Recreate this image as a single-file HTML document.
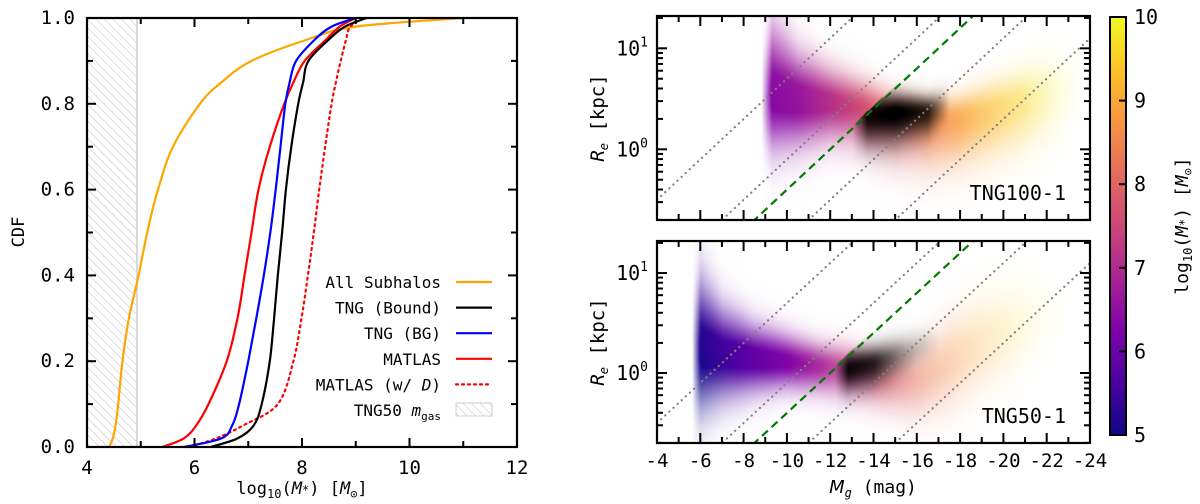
<!DOCTYPE html>
<html><head><meta charset="utf-8">
<style>
html,body{margin:0;padding:0;background:#fff;overflow:hidden;}
#wrap{position:relative;width:1200px;height:504px;overflow:hidden;font-family:"DejaVu Sans Mono","Liberation Mono",monospace;}
canvas,svg{position:absolute;left:0;top:0;}
text{font-family:"DejaVu Sans Mono","Liberation Mono",monospace;fill:#000;}
</style></head>
<body>
<div id="wrap">
<canvas id="cv" width="1200" height="504"></canvas>
<svg id="sv" width="1200" height="504" xmlns="http://www.w3.org/2000/svg">
<defs>
<pattern id="hatch" patternUnits="userSpaceOnUse" width="6" height="6" patternTransform="rotate(-45)">
<rect width="6" height="6" fill="#fff"/><line x1="0" y1="0" x2="0" y2="6" stroke="#bbb" stroke-width="1"/>
</pattern>
<linearGradient id="cbar" x1="0" y1="1" x2="0" y2="0">
<stop offset="0" stop-color="#0d0887"/><stop offset="0.125" stop-color="#4c02a1"/><stop offset="0.25" stop-color="#7e03a8"/><stop offset="0.375" stop-color="#a92395"/><stop offset="0.5" stop-color="#cc4778"/><stop offset="0.625" stop-color="#e56b5d"/><stop offset="0.75" stop-color="#f89540"/><stop offset="0.875" stop-color="#fdc328"/><stop offset="1" stop-color="#f0f921"/>
</linearGradient>
</defs>
</svg>
</div>
<script>
// ---------- CDF data (x = log10 M*, at CDF levels) ----------
const cdfLevels = [0, 0.02, 0.05, 0.1, 0.2, 0.3, 0.4, 0.5, 0.6, 0.7, 0.8, 0.85, 0.9, 0.95, 0.98, 1.0];
const allSubhalos = [4.41, 4.48, 4.53, 4.58, 4.66, 4.78, 4.96, 5.12, 5.32, 5.6, 6.1, 6.5, 7.06, 8.1, 9.0, 11.0];
const tngBound =    [6.3, 6.8, 7.1, 7.25, 7.4, 7.48, 7.55, 7.63, 7.7, 7.8, 7.93, 8.02, 8.12, 8.5, 8.8, 9.2];
const tngBG =       [5.8, 6.5, 6.7, 6.83, 7.0, 7.15, 7.29, 7.41, 7.51, 7.6, 7.69, 7.77, 7.89, 8.24, 8.55, 9.0];
const matlas =      [5.4, 5.8, 6.03, 6.26, 6.6, 6.8, 6.93, 7.06, 7.19, 7.4, 7.67, 7.84, 8.05, 8.45, 8.7, 9.0];
const matlasD =     [5.9, 6.4, 6.9, 7.55, 7.84, 7.99, 8.11, 8.22, 8.32, 8.43, 8.55, 8.63, 8.72, 8.82, 8.9, 9.15];
const gasLimit = 4.93;
const cdfXTicks = [4, 6, 8, 10, 12];
const cdfYTicks = ['0.0','0.2','0.4','0.6','0.8','1.0'];

// ---------- Scatter density bins: [|Mg|, centre logRe, spreadUp, spreadDown, logM*, density] ----------
const tng100Bins = [[8.8,0.5,0.3,0.3,6.3,0],[9.3,0.55,0.45,0.35,6.4,1],[10.5,0.5,0.3,0.3,6.6,1],[12,0.47,0.22,0.25,7.1,0.95],[13.5,0.42,0.18,0.25,7.6,0.9],[15,0.35,0.15,0.3,8.0,0.7],[16.5,0.3,0.13,0.3,8.5,0.8],[18,0.32,0.15,0.3,8.9,0.75],[19.5,0.4,0.18,0.3,9.3,0.6],[21,0.5,0.2,0.3,9.6,0.45],[22.5,0.6,0.2,0.3,9.9,0.15],[23.5,0.65,0.2,0.2,10,0]];
const tng100Bound = [[13.0,0.35,0.1,0.2,0,0],[13.7,0.35,0.12,0.2,0,0.9],[15,0.37,0.12,0.2,0,1],[16.5,0.38,0.1,0.15,0,0.8],[17.5,0.45,0.1,0.1,0,0]];
const tng50Bins = [[5.6,0.2,0.4,0.4,5.1,0],[6.0,0.25,0.45,0.4,5.2,1],[7,0.2,0.3,0.3,5.5,1],[8.5,0.15,0.22,0.22,5.9,1],[10,0.12,0.18,0.18,6.3,0.95],[11.5,0.08,0.15,0.18,6.8,0.85],[13,0.05,0.15,0.2,7.3,0.7],[14.5,-0.05,0.15,0.2,7.8,0.6],[16,-0.05,0.2,0.25,8.2,0.45],[17.5,0.1,0.3,0.3,8.6,0.35],[19,0.3,0.3,0.3,9.1,0.25],[20.5,0.45,0.3,0.3,9.5,0.15],[22,0.6,0.2,0.2,9.9,0.05],[23,0.6,0.2,0.2,10,0]];
const tng50Bound = [[12.2,0.05,0.1,0.15,0,0],[12.8,0.05,0.12,0.15,0,0.9],[14,0.1,0.12,0.15,0,0.8],[15.5,0.2,0.12,0.12,0,0.3],[16.5,0.3,0.1,0.1,0,0.1],[17,0.3,0.1,0.1,0,0]];
const dottedOffsets = [-1.3, -2.1, -2.9, -3.7];
const dashedOffset = -2.4;
const magTicks = ['-4','-6','-8','-10','-12','-14','-16','-18','-20','-22','-24'];
const cbarTicks = ['5','6','7','8','9','10'];

const NS='http://www.w3.org/2000/svg';
const svg=document.getElementById('sv');
function mk(tag,attrs,parent){const e=document.createElementNS(NS,tag);for(const k in attrs)e.setAttribute(k,attrs[k]);(parent||svg).appendChild(e);return e;}

// ---------- Left CDF panel ----------
const L={x0:87,x1:517,y0:18,y1:447};
const cx=v=>L.x0+(v-4)/8*(L.x1-L.x0);
const cy=v=>L.y1-v*(L.y1-L.y0);
const hatch=mk('rect',{x:cx(4),y:L.y0,width:cx(gasLimit)-cx(4),height:L.y1-L.y0,fill:'url(#hatch)',stroke:'#ccc','stroke-width':1.5});


function curve(xs,color,name,dash){
  const pts=xs.map((x,i)=>[cx(x),cy(cdfLevels[i])]);
  let d='M'+pts[0][0].toFixed(1)+','+pts[0][1].toFixed(1);
  for(let i=0;i<pts.length-1;i++){
    const p0=pts[Math.max(0,i-1)],p1=pts[i],p2=pts[i+1],p3=pts[Math.min(pts.length-1,i+2)];
    const c1=[p1[0]+(p2[0]-p0[0])/6,p1[1]+(p2[1]-p0[1])/6];
    const c2=[p2[0]-(p3[0]-p1[0])/6,p2[1]-(p3[1]-p1[1])/6];
    d+=' C'+c1[0].toFixed(1)+','+c1[1].toFixed(1)+' '+c2[0].toFixed(1)+','+c2[1].toFixed(1)+' '+p2[0].toFixed(1)+','+p2[1].toFixed(1);
  }
  const p=mk('path',{d:d,fill:'none',stroke:color,'stroke-width':2.2});
  if(dash){p.setAttribute('stroke-dasharray','2 4');p.setAttribute('stroke-linecap','round');}
  
  
}
curve(allSubhalos,'#ffa500','cdf-all-subhalos');
curve(matlasD,'#ff0000','cdf-matlas-with-d',true);
curve(matlas,'#ff0000','cdf-matlas');
curve(tngBound,'#000','cdf-tng-bound');
curve(tngBG,'#0000ff','cdf-tng-bg');
const lframe=mk('rect',{x:L.x0,y:L.y0,width:L.x1-L.x0,height:L.y1-L.y0,fill:'none',stroke:'#000','stroke-width':2.2});


for(let v=4;v<=12;v++){const x=cx(v);const len=v%2?6:9;
  mk('line',{x1:x,y1:L.y1,x2:x,y2:L.y1-len,stroke:'#000','stroke-width':2});
  mk('line',{x1:x,y1:L.y0,x2:x,y2:L.y0+len,stroke:'#000','stroke-width':2});}
cdfXTicks.forEach(v=>{const t=mk('text',{x:cx(v),y:474,'text-anchor':'middle','font-size':19});t.textContent=v;
  
  });
for(let i=0;i<=10;i++){const y=cy(i/10);const len=i%2?6:9;
  mk('line',{x1:L.x0,y1:y,x2:L.x0+len,y2:y,stroke:'#000','stroke-width':2});
  mk('line',{x1:L.x1,y1:y,x2:L.x1-len,y2:y,stroke:'#000','stroke-width':2});}
cdfYTicks.forEach(s=>{const t=mk('text',{x:75,y:cy(parseFloat(s))+6,'text-anchor':'end','font-size':19});t.textContent=s;
  
  });
let t=mk('text',{x:0,y:0,'font-size':17,'text-anchor':'middle',transform:'translate(24,232) rotate(-90)'});t.textContent='CDF';

t=mk('text',{x:302,y:494,'font-size':17,'text-anchor':'middle','font-family':'DejaVu Sans'});
t.innerHTML='log<tspan font-size="12" dy="4">10</tspan><tspan dy="-4">(</tspan><tspan font-style="italic">M</tspan><tspan font-size="12">*</tspan>) [<tspan font-style="italic">M</tspan><tspan font-size="12" dy="4">⊙</tspan><tspan dy="-4">]</tspan>';

// legend
const legend=[['All Subhalos','#ffa500',0],['TNG (Bound)','#000',0],['TNG (BG)','#0000ff',0],['MATLAS','#ff0000',0],['MATLAS (w/ D)','#ff0000',1],['TNG50 m','',2]];
legend.forEach((e,i)=>{const y=282+i*25.6;
  const tx=mk('text',{x:441,y:y+6,'text-anchor':'end','font-size':16});
  if(i===4) tx.innerHTML='MATLAS (w/ <tspan font-style="italic">D</tspan>)';
  else if(i===5) tx.innerHTML='TNG50 <tspan font-style="italic">m</tspan><tspan font-size="11" dy="4">gas</tspan>';
  else tx.textContent=e[0];
  
  if(e[2]===2){const r=mk('rect',{x:456,y:y-7,width:36,height:13,fill:'url(#hatch)',stroke:'#ccc'});
    }
  else{const l=mk('line',{x1:456,y1:y,x2:492,y2:y,stroke:e[1],'stroke-width':2.2});
    if(e[2]){l.setAttribute('stroke-dasharray','2 4');l.setAttribute('stroke-linecap','round');}
    }
});

// ---------- Right scatter panels ----------
const plasmaStops=[[0,13,8,135],[0.125,76,2,161],[0.25,126,3,168],[0.375,169,35,149],[0.5,204,71,120],[0.625,229,107,93],[0.75,248,149,64],[0.875,253,195,40],[1,240,249,33]];
function plasma(f){f=Math.max(0,Math.min(1,f));for(let i=1;i<plasmaStops.length;i++){if(f<=plasmaStops[i][0]){const a=plasmaStops[i-1],b=plasmaStops[i],u=(f-a[0])/(b[0]-a[0]);return [a[1]+u*(b[1]-a[1]),a[2]+u*(b[2]-a[2]),a[3]+u*(b[3]-a[3])];}}return [240,249,33];}
const R={x0:657,x1:1090};
const panels=[{y0:16,y1:220,bins:tng100Bins,bound:tng100Bound,label:'TNG100-1',name:'tng100'},{y0:241,y1:443,bins:tng50Bins,bound:tng50Bound,label:'TNG50-1',name:'tng50'}];
const LT=1.32,LB=-0.7;
const mx=m=>R.x0+(m-4)/20*(R.x1-R.x0);
function interp(bins,m){if(m<=bins[0][0]||m>=bins[bins.length-1][0])return null;
  for(let i=1;i<bins.length;i++){if(m<=bins[i][0]){const a=bins[i-1],b=bins[i],u=(m-a[0])/(b[0]-a[0]);return a.map((v,k)=>v+u*(b[k]-v));}}return null;}
const cv=document.getElementById('cv');const ctx=cv.getContext('2d');
const img=ctx.createImageData(1200,504);
for(let i=0;i<img.data.length;i++)img.data[i]=255;
function dens(b,L){const s=L>b[1]?b[2]:b[3];const z=(L-b[1])/s;return b[5]*Math.exp(-0.5*z*z);}
panels.forEach(P=>{
  const ly=y=>LT-(y-P.y0)/(P.y1-P.y0)*(LT-LB);
  for(let x=R.x0+1;x<R.x1;x++){
    const m=4+(x-R.x0)/(R.x1-R.x0)*20;
    const b=interp(P.bins,m),k=interp(P.bound,m);
    for(let y=P.y0+1;y<P.y1;y++){
      const L=ly(y);let r=255,g=255,bl=255;
      if(b){const a=Math.min(1,dens(b,L)*1.1);const c=plasma((b[4]+(L-b[1])*0.3-5)/5);
        r=255+(c[0]-255)*a;g=255+(c[1]-255)*a;bl=255+(c[2]-255)*a;}
      if(k&&L<=0.2*m+dashedOffset+0.04){const a=Math.min(1,dens(k,L)*1.05);r*=1-a;g*=1-a;bl*=1-a;}
      const idx=(y*1200+x)*4;img.data[idx]=r;img.data[idx+1]=g;img.data[idx+2]=bl;
    }
  }
});
ctx.putImageData(img,0,0);

panels.forEach((P,pi)=>{
  const py=L=>P.y0+(LT-L)/(LT-LB)*(P.y1-P.y0);
  const g=mk('g',{});
  
  const clip=mk('clipPath',{id:'clip'+pi},g);mk('rect',{x:R.x0,y:P.y0,width:R.x1-R.x0,height:P.y1-P.y0},clip);
  dottedOffsets.forEach(c=>{const l=mk('line',{x1:mx(4),y1:py(0.8+c),x2:mx(24),y2:py(4.8+c),stroke:'#808080','stroke-width':2.2,'stroke-dasharray':'0.1 5.5','stroke-linecap':'round','clip-path':'url(#clip'+pi+')'},g);
    });
  const dl=mk('line',{x1:mx(4),y1:py(0.8+dashedOffset),x2:mx(24),y2:py(4.8+dashedOffset),stroke:'#007a00','stroke-width':2.2,'stroke-dasharray':'8 5','clip-path':'url(#clip'+pi+')'},g);
  
  mk('rect',{x:R.x0,y:P.y0,width:R.x1-R.x0,height:P.y1-P.y0,fill:'none',stroke:'#000','stroke-width':2.2},g);
  for(let m=4;m<=24;m++){const x=mx(m),len=m%2?6:10;
    mk('line',{x1:x,y1:P.y1,x2:x,y2:P.y1-len,stroke:'#000','stroke-width':2},g);
    mk('line',{x1:x,y1:P.y0,x2:x,y2:P.y0+len,stroke:'#000','stroke-width':2},g);}
  for(let d=-1;d<=1;d++)for(let j=1;j<=9;j++){const L=d+Math.log10(j);if(L<LB||L>LT)continue;const y=py(L),len=j===1?10:6;
    mk('line',{x1:R.x0,y1:y,x2:R.x0+len,y2:y,stroke:'#000','stroke-width':2},g);
    mk('line',{x1:R.x1,y1:y,x2:R.x1-len,y2:y,stroke:'#000','stroke-width':2},g);}
  [0,1].forEach(e=>{const tt=mk('text',{x:648,y:py(e)+7,'text-anchor':'end','font-size':20},g);tt.innerHTML='10<tspan font-size="13" dy="-9">'+e+'</tspan>';
    });
  const yt=mk('text',{x:0,y:0,'font-size':19,'text-anchor':'middle','font-family':'DejaVu Sans',transform:'translate(604,'+((P.y0+P.y1)/2)+') rotate(-90)'},g);
  yt.innerHTML='<tspan font-style="italic">R</tspan><tspan font-size="12" dy="4" font-style="italic">e</tspan><tspan dy="-4"> [kpc]</tspan>';
  
  const lb=mk('text',{x:1066,y:P.y1-20,'text-anchor':'end','font-size':20},g);lb.textContent=P.label;
  
});
magTicks.forEach((s,i)=>{const tt=mk('text',{x:mx(4+2*i),y:467,'text-anchor':'middle','font-size':19});tt.textContent=s;
  });
t=mk('text',{x:873,y:493,'text-anchor':'middle','font-size':18});t.innerHTML='<tspan font-style="italic" font-family="DejaVu Sans">M</tspan><tspan font-size="12" dy="4" font-style="italic">g</tspan><tspan dy="-4"> (mag)</tspan>';

// colorbar
const CB={x0:1110,x1:1126,y0:17,y1:435};
const cb=mk('rect',{x:CB.x0,y:CB.y0,width:CB.x1-CB.x0,height:CB.y1-CB.y0,fill:'url(#cbar)',stroke:'#000','stroke-width':2});

cbarTicks.forEach(s=>{const v=parseFloat(s);const y=CB.y1-(v-5)/5*(CB.y1-CB.y0);
  mk('line',{x1:CB.x1,y1:y,x2:CB.x1-7,y2:y,stroke:'#000','stroke-width':2});
  const tt=mk('text',{x:1134,y:y+7,'font-size':20});tt.textContent=s;
  });
t=mk('text',{x:0,y:0,'font-size':18,'text-anchor':'middle','font-family':'DejaVu Sans',transform:'translate(1188,226) rotate(-90)'});
t.innerHTML='log<tspan font-size="12" dy="4">10</tspan><tspan dy="-4">(</tspan><tspan font-style="italic">M</tspan><tspan font-size="12">*</tspan>) [<tspan font-style="italic">M</tspan><tspan font-size="12" dy="4">⊙</tspan><tspan dy="-4">]</tspan>';

</script>
</body></html>
